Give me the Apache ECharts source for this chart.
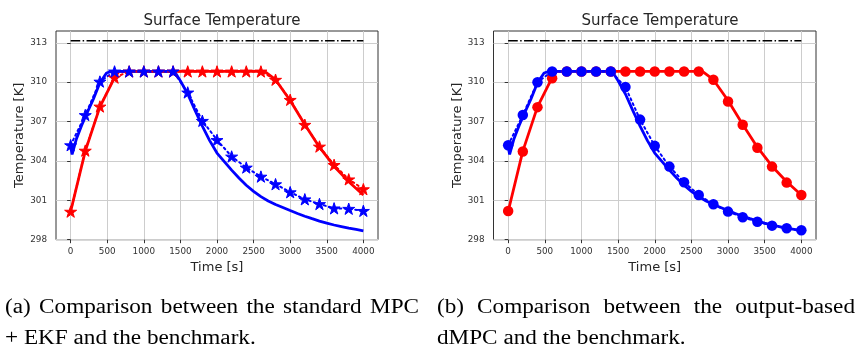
<!DOCTYPE html>
<html><head><meta charset="utf-8">
<script src="https://cdn.jsdelivr.net/npm/echarts@6/dist/echarts.min.js"></script>
<style>html,body{margin:0;padding:0;background:#fff}#c{width:858px;height:348px}</style>
</head><body><div id="c"></div>
<script>
// ---------- data ----------
const titleText = 'Surface Temperature';
const xName = 'Time [s]';
const yName = 'Temperature [K]';
const xTicks = [0, 500, 1000, 1500, 2000, 2500, 3000, 3500, 4000];
const yTicks = [298, 301, 304, 307, 310, 313];

// temperature limit (dash-dot)
const limitT = [0, 4000];
const limitV = [313.15, 313.15];

// marker times (every 200 s)
const markT = [0,200,400,600,800,1000,1200,1400,1600,1800,2000,2200,2400,2600,2800,3000,3200,3400,3600,3800,4000];

// benchmark (red solid)
const benchT = [0,200,400,600,660,800,1000,1200,1400,1600,1800,2000,2200,2400,2600,2650,2800,3000,3200,3400,3600,3800,4000];
const benchV = [300.15,304.75,308.12,310.35,310.82,310.82,310.82,310.82,310.82,310.82,310.82,310.82,310.82,310.82,310.82,310.82,310.19,308.6,306.78,305.05,303.6,302.42,301.41];
// benchmark markers (right chart, circles)
const benchMarkV = [300.19,304.72,308.1,310.3,310.82,310.82,310.82,310.82,310.82,310.82,310.82,310.82,310.82,310.82,310.19,308.53,306.76,305.0,303.57,302.35,301.41];

// (a) standard MPC + EKF, red subsystem (dotted, stars)
const redEkfV = [300.14,304.79,308.15,310.35,310.82,310.82,310.82,310.82,310.82,310.82,310.82,310.82,310.82,310.82,310.19,308.66,306.76,305.1,303.7,302.6,301.85];

// blue plant trajectory (solid)
const plantT = [0,20,80,150,220,310,400,490,560,1420,1500,1600,1700,1800,1900,2000,2100,2200,2300,2400,2500,2600,2700,2800,2900,3000,3100,3200,3300,3400,3500,3600,3700,3800,3900,4000];
const plantV = [305.1,304.5,305.7,306.7,307.6,308.7,309.95,310.7,310.82,310.82,310.1,309.1,307.85,306.65,305.55,304.6,303.95,303.3,302.7,302.15,301.68,301.28,300.95,300.68,300.45,300.22,300.0,299.79,299.6,299.42,299.26,299.12,299.0,298.88,298.78,298.68];

// (a) EKF estimate, blue (dotted, stars)
const blueEkfV = [305.2,307.5,310.05,310.82,310.82,310.82,310.82,310.82,309.22,307.06,305.6,304.34,303.5,302.81,302.23,301.62,301.08,300.72,300.39,300.36,300.2];
// (b) output-based dMPC, blue (dotted, circles)
const blueDmpcV = [305.2,307.5,310.0,310.82,310.82,310.82,310.82,310.82,309.63,307.15,305.15,303.57,302.38,301.41,300.7,300.14,299.71,299.37,299.07,298.87,298.72];

const captionA = ['(a) Comparison between the standard MPC', '+ EKF and the benchmark.'];
const captionB = ['(b) Comparison between the output-based', 'dMPC and the benchmark.'];

// ---------- helpers ----------
const pairs = (t, v) => t.map((x, i) => [x, v[i]]);
const STAR = 'path://M100 0 L122.45 69.1 L195.11 69.1 L136.33 111.8 L158.78 180.9 L100 138.2 L41.22 180.9 L63.67 111.8 L4.89 69.1 L77.55 69.1 Z';
const SANS = 'DejaVu Sans';
const SERIF = 'Liberation Serif';
const RED = '#ff0000', BLUE = '#0000ff';
const TICKFS = 8.8, NAMEFS = 13, TITLEFS = 15;

const grids = [
  {left: 56, right: 480, top: 31, bottom: 108.3},
  {left: 493.5, right: 42, top: 31, bottom: 108.3}
];
const fmt = v => String(v);

function xAxisFor(i) {
  return {
    type: 'value', gridIndex: i, min: -200, max: 4200, splitNumber: 9,
    axisLine: {show: false},
    axisTick: {show: true, length: 3.5, customValues: xTicks, lineStyle: {color: '#333', width: 1}},
    axisLabel: {customValues: xTicks, formatter: fmt, fontSize: TICKFS, color: '#333', margin: 7.5, fontFamily: SANS},
    splitLine: {show: true, lineStyle: {color: '#cdcdcd', width: 1}},
    name: xName, nameLocation: 'middle', nameGap: 19,
    nameTextStyle: {fontSize: NAMEFS, color: '#262626', fontFamily: SANS}
  };
}
function yAxisFor(i) {
  return {
    type: 'value', gridIndex: i, min: 298, max: 313.9, interval: 3,
    axisLine: {show: false},
    axisTick: {show: true, length: 3.5, customValues: yTicks, lineStyle: {color: '#333', width: 1}},
    axisLabel: {customValues: yTicks, formatter: fmt, fontSize: TICKFS, color: '#333', margin: 9, fontFamily: SANS},
    splitLine: {show: true, lineStyle: {color: '#cdcdcd', width: 1}},
    name: yName, nameLocation: 'middle', nameGap: 29, nameRotate: 90,
    nameTextStyle: {fontSize: NAMEFS, color: '#262626', fontFamily: SANS}
  };
}
function limitSeries(i) {
  return {type: 'line', xAxisIndex: i, yAxisIndex: i, data: pairs(limitT, limitV), symbol: 'none',
    lineStyle: {color: '#000', width: 1.5, type: [9.6, 2.4, 1.5, 2.4]}, z: 2, silent: true};
}
function solid(i, t, v, color) {
  return {type: 'line', xAxisIndex: i, yAxisIndex: i, data: pairs(t, v), symbol: 'none',
    lineStyle: {color, width: 2.8}, z: 3, silent: true};
}
function marked(i, t, v, color, symbol, size, dotted) {
  return {type: 'line', xAxisIndex: i, yAxisIndex: i, data: pairs(t, v),
    symbol, symbolSize: size, symbolKeepAspect: true, showSymbol: true,
    itemStyle: {color, borderColor: color, borderWidth: symbol === 'circle' ? 0 : 1},
    lineStyle: dotted ? {color, width: 2, type: [2, 3.3], cap: 'round'} : {color, width: 0},
    z: 4, silent: true};
}

const series = [
  limitSeries(0),
  solid(0, benchT, benchV, RED),
  marked(0, markT, redEkfV, RED, STAR, 12, true),
  solid(0, plantT, plantV, BLUE),
  marked(0, markT, blueEkfV, BLUE, STAR, 12, true),
  limitSeries(1),
  solid(1, benchT, benchV, RED),
  marked(1, markT, benchMarkV, RED, 'circle', 10.5, false),
  solid(1, plantT, plantV, BLUE),
  marked(1, markT, blueDmpcV, BLUE, 'circle', 10.5, true)
];

// caption layout: serif text, horizontally widened to the reference's wider typeface
const CAP = 20;
const capFont = CAP + 'px "' + SERIF + '"';
const mctx = document.createElement('canvas').getContext('2d');
mctx.font = capFont;
const SX = 228 / mctx.measureText('(a) Comparison between').width;
function textEl(text, x, y) {
  return {type: 'text', x, y, scaleX: SX, scaleY: 1, silent: true,
    style: {text, font: capFont, fill: '#000', align: 'left', verticalAlign: 'middle', textAlign: 'left', textVerticalAlign: 'middle'}};
}
function lineTexts(text, x0, x1, y, justify) {
  if (!justify) return [textEl(text, x0, y)];
  const words = text.split(' ');
  const widths = words.map(w => mctx.measureText(w).width * SX);
  const total = widths.reduce((a, b) => a + b, 0);
  const gap = (x1 - x0 - total) / (words.length - 1);
  let x = x0;
  return words.map((w, k) => {
    const el = textEl(w, x, y);
    x += widths[k] + gap;
    return el;
  });
}
const graphic = [].concat(
  lineTexts(captionA[0], 5, 419, 307.5, true),
  lineTexts(captionA[1], 5, 419, 338.5, false),
  lineTexts(captionB[0], 437, 855, 307.5, true),
  lineTexts(captionB[1], 437, 855, 338.5, false)
);

const chart = echarts.init(document.getElementById('c'), null, {renderer: 'canvas'});
chart.setOption({
  animation: false,
  backgroundColor: '#fff',
  title: [
    {text: titleText, left: 217, top: 9, textAlign: 'center', textStyle: {fontSize: TITLEFS, fontWeight: 'normal', color: '#262626', fontFamily: SANS}},
    {text: titleText, left: 655, top: 9, textAlign: 'center', textStyle: {fontSize: TITLEFS, fontWeight: 'normal', color: '#262626', fontFamily: SANS}}
  ],
  grid: grids.map(g => Object.assign({show: true, borderColor: '#333', borderWidth: 1, backgroundColor: 'transparent', containLabel: false}, g)),
  xAxis: [xAxisFor(0), xAxisFor(1)],
  yAxis: [yAxisFor(0), yAxisFor(1)],
  series,
  graphic
});
</script></body></html>
